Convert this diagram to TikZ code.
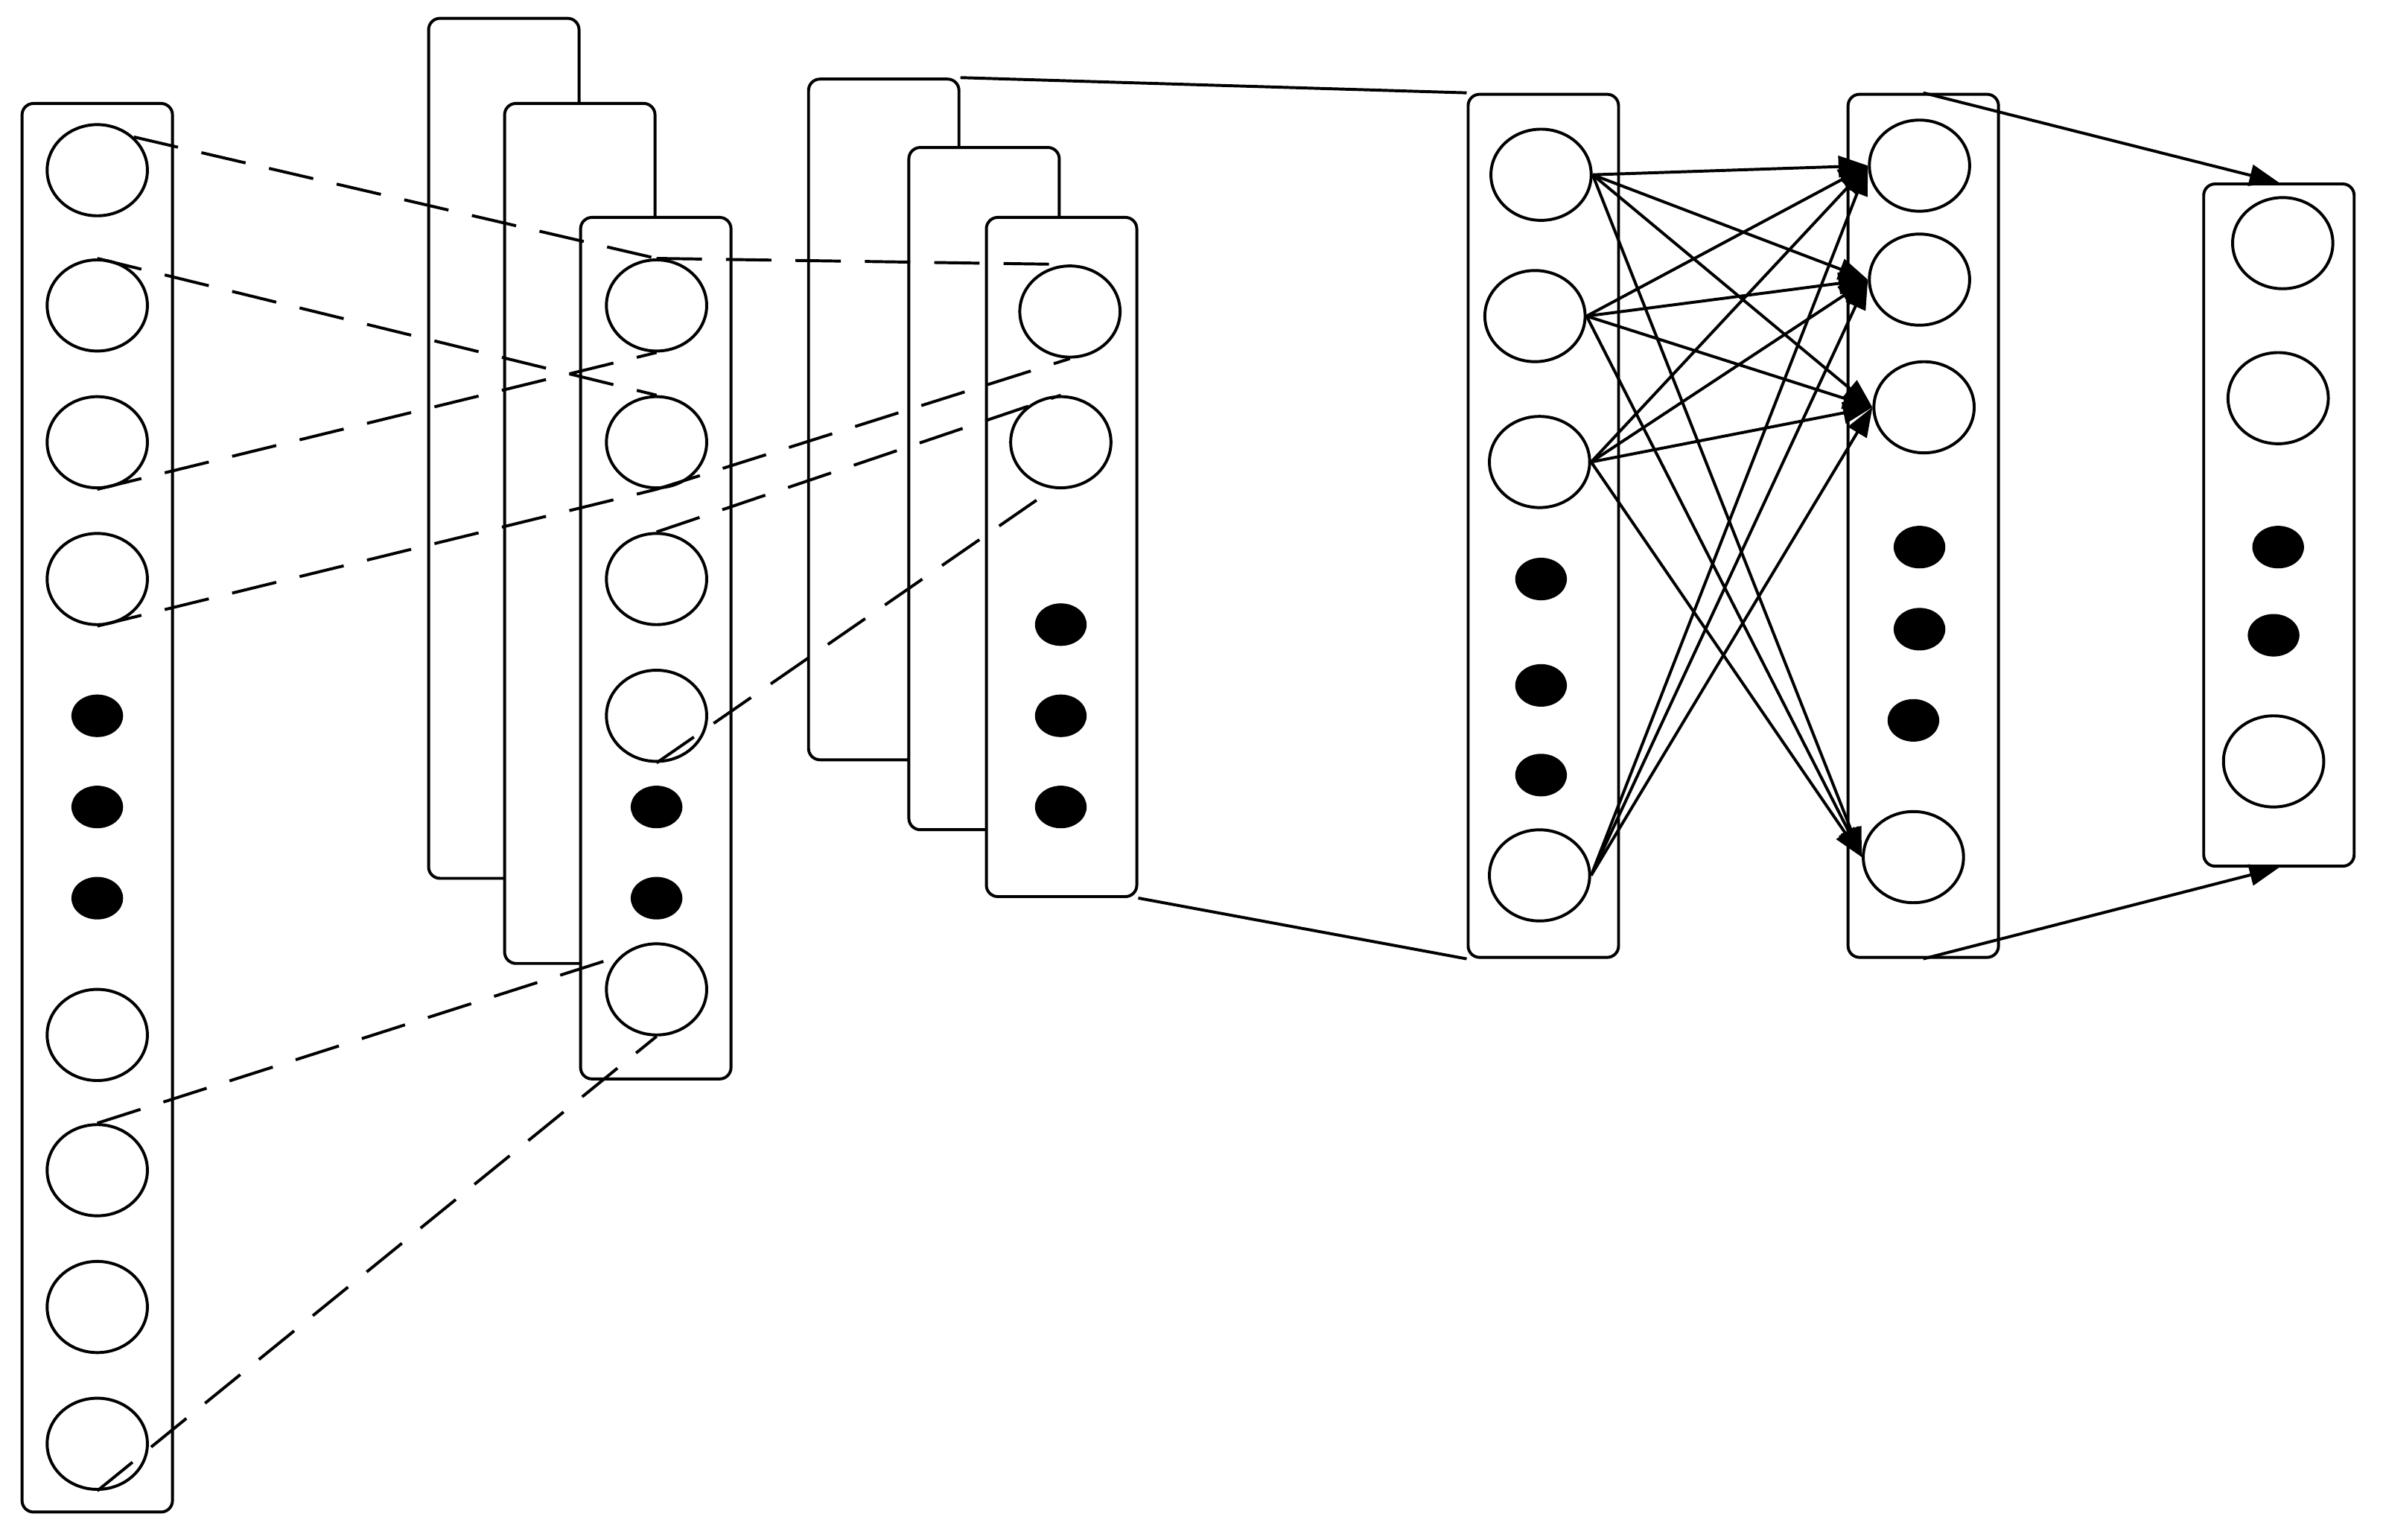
\documentclass[tikz,border=0pt]{standalone}
\usetikzlibrary{shapes.geometric,arrows.meta}
\begin{document}
\begin{tikzpicture}[x=0.02cm,y=-0.02cm,
 col/.style={draw,line width=1.1pt,rounded corners=0.15cm,fill=white,minimum width=1.98cm,inner sep=0},
 cir/.style={draw,ellipse,line width=1.1pt,minimum width=1.32cm,minimum height=1.2cm,inner sep=0},
 dot/.style={fill,ellipse,minimum width=0.68cm,minimum height=0.56cm,inner sep=0},
 dl/.style={line width=1.1pt,dash pattern=on 17pt off 9pt},
 sl/.style={line width=1.1pt},
 ar/.style={line width=1.1pt,-{Triangle[length=11pt,width=8pt]}}]
\useasboundingbox (0,0) rectangle (1568,1013);
% input
\node[col,minimum height=18.54cm] (in) at (64,531.5) {};
\foreach \y [count=\i] in {112,201,291,381,681,770,860,950} \node[cir] (i\i) at (64,\y) {};
\foreach \y [count=\i] in {471,531,591} \node[dot] (id\i) at (64,\y) {};
% conv1
\node[col,minimum height=11.32cm] (A) at (331.5,295) {};
\node[col,minimum height=11.32cm] (B) at (381.5,351) {};
\node[col,minimum height=11.34cm] (C) at (431.5,426.5) {};
\foreach \y [count=\i] in {201,291,381,471,651} \node[cir] (c\i) at (432,\y) {};
\foreach \y [count=\i] in {531,591} \node[dot] (cd\i) at (432,\y) {};
% conv2
\node[col,minimum height=8.96cm] (D) at (581.5,276) {};
\node[col,minimum height=8.98cm] (E) at (647.5,321.5) {};
\node[col,minimum height=8.94cm] (F) at (698.5,366.5) {};
\node[cir] (f1) at (704,205) {};
\node[cir] (f2) at (698,291) {};
\foreach \y [count=\i] in {411,471,531} \node[dot] (fd\i) at (698,\y) {};
\coordinate (f2b) at (688,325);
% dense
\node[col,minimum height=11.36cm] (G) at (1015.5,346) {};
\node[cir] (g1) at (1014,115) {};
\node[cir] (g2) at (1010,208) {};
\node[cir] (g3) at (1013,304) {};
\node[cir] (g4) at (1013,576) {};
\foreach \y [count=\i] in {381,451,510} \node[dot] (gd\i) at (1014,\y) {};
\node[col,minimum height=11.36cm] (H) at (1265.5,346) {};
\node[cir] (h1) at (1263,109) {};
\node[cir] (h2) at (1263,184) {};
\node[cir] (h3) at (1266,268) {};
\node[cir] (h4) at (1259,564) {};
\node[dot] (hd1) at (1263,360) {};
\node[dot] (hd2) at (1263,414) {};
\node[dot] (hd3) at (1259,474) {};
\node[col,minimum height=8.98cm] (I) at (1499.5,345.5) {};
\node[cir] (o1) at (1502,160) {};
\node[cir] (o2) at (1499,262) {};
\node[cir] (o3) at (1496,501) {};
\node[dot] (od1) at (1499,360) {};
\node[dot] (od2) at (1496,418) {};
% dashed
\draw[dl] (i1.north east) -- (c1.north);
\draw[dl] (c1.north) -- (f1.north);
\draw[dl] (i2.north) -- (c2.north);
\draw[dl] (i3.south) -- (c1.south);
\draw[dl] (i4.south) -- (c2.south);
\draw[dl] (c2.south) -- (f1.south);
\draw[dl] (c3.north) -- (f2.north);
\draw[dl] (c4.south) -- (f2b);
\draw[dl] (i6.north) -- (c5.north west);
\draw[dl] (i8.south) -- (c5.south);
% solid
\draw[sl] (D.north east) -- (G.north west);
\draw[sl] (F.south east) -- (G.south west);
\foreach \a in {1,2,3} \foreach \b in {1,2,3,4} \draw[ar] (g\a.east) -- (h\b.west);
\foreach \b in {1,2,3} \draw[ar] (g4.east) -- (h\b.west);
\draw[ar] (H.north) -- (I.north);
\draw[ar] (H.south) -- (I.south);
\end{tikzpicture}
\end{document}
